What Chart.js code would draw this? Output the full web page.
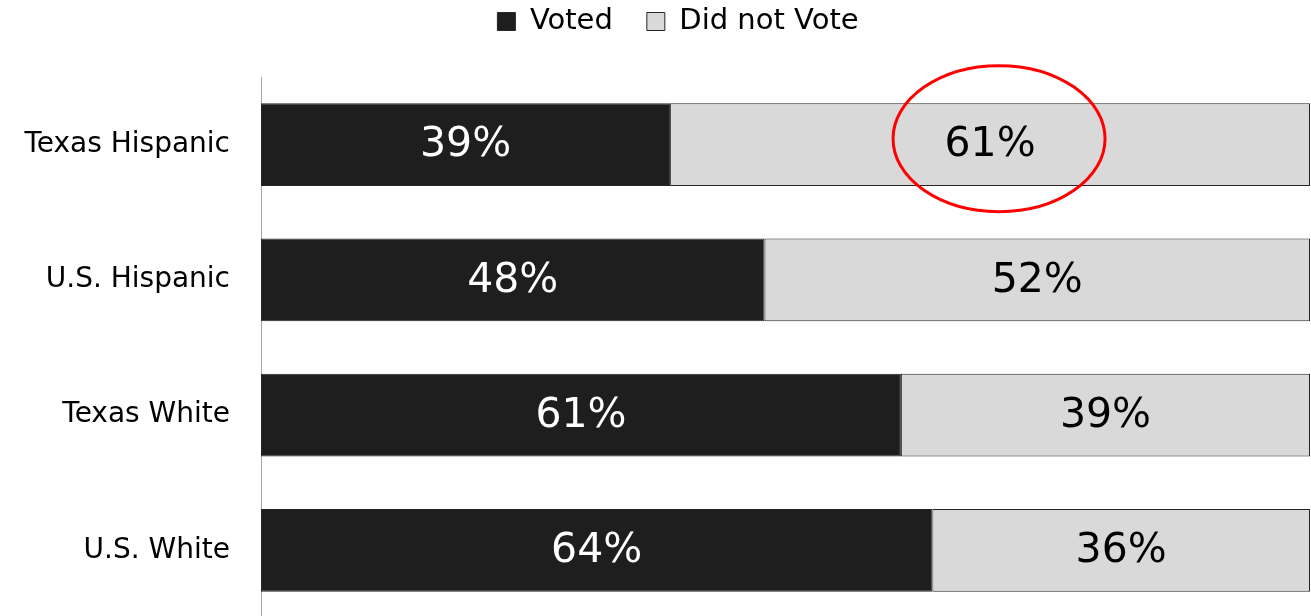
<!DOCTYPE html>
<html>
<head>
<meta charset="utf-8">
<script src="https://cdn.jsdelivr.net/npm/chart.js@4/dist/chart.umd.min.js"></script>
<style>
  html, body { margin: 0; padding: 0; background: #fff; overflow: hidden; }
</style>
</head>
<body>
<canvas id="myChart" width="1311" height="618"></canvas>
<script>
const categories = ['Texas Hispanic', 'U.S. Hispanic', 'Texas White', 'U.S. White'];
const voted = [39, 48, 61, 64];
const didNotVote = [61, 52, 39, 36];
const seriesNames = ['Voted', 'Did not Vote'];

const FONT = '"DejaVu Sans", sans-serif';

// legend takes a fixed band on top, items drawn a bit higher and to the right
const legendBand = {
  id: 'legendBand',
  afterInit(chart) {
    const lg = chart.legend;
    const fit = lg.fit;
    lg.fit = function () { fit.call(this); this.height = 77; };
    const draw = lg._draw;
    lg._draw = function () {
      const c = this.ctx;
      c.save();
      c.translate(23, -27);
      draw.call(this);
      c.restore();
    };
  }
};

// percent labels inside each segment
const barLabels = {
  id: 'barLabels',
  afterDatasetsDraw(chart) {
    const ctx = chart.ctx;
    ctx.save();
    ctx.font = '41px ' + FONT;
    ctx.textAlign = 'center';
    ctx.textBaseline = 'middle';
    chart.data.datasets.forEach((ds, i) => {
      chart.getDatasetMeta(i).data.forEach((bar, j) => {
        const p = bar.getProps(['x', 'y', 'base'], true);
        ctx.fillStyle = i === 0 ? '#ffffff' : '#000000';
        ctx.fillText(ds.data[j] + '%', (p.x + p.base) / 2, p.y + 1);
      });
    });
    ctx.restore();
  }
};

// red circle round the Texas Hispanic "did not vote" value
const circleNote = {
  id: 'circleNote',
  afterDraw(chart) {
    const bar = chart.getDatasetMeta(1).data[0];
    const p = bar.getProps(['x', 'y', 'base'], true);
    const ctx = chart.ctx;
    ctx.save();
    ctx.strokeStyle = '#ff0000';
    ctx.lineWidth = 3;
    ctx.beginPath();
    ctx.ellipse((p.x + p.base) / 2 + 9, p.y - 6, 106, 73, 0, 0, Math.PI * 2);
    ctx.stroke();
    ctx.restore();
  }
};

const ctx = document.getElementById('myChart').getContext('2d');
new Chart(ctx, {
  type: 'bar',
  data: {
    labels: categories,
    datasets: [{
      label: seriesNames[0],
      data: voted,
      backgroundColor: '#1e1e1e',
      borderColor: '#262626',
      borderWidth: 1,
      borderSkipped: false
    }, {
      label: seriesNames[1],
      data: didNotVote,
      backgroundColor: '#d9d9d9',
      borderColor: '#262626',
      borderWidth: 1,
      borderSkipped: false
    }]
  },
  options: {
    indexAxis: 'y',
    responsive: false,
    animation: false,
    categoryPercentage: 0.613,
    barPercentage: 1,
    layout: { padding: { left: 0, right: 1, top: 0, bottom: 0 } },
    plugins: {
      tooltip: { enabled: false },
      legend: {
        position: 'top',
        labels: {
          color: '#000',
          font: { family: FONT, size: 29 },
          boxWidth: 18,
          boxHeight: 18,
          padding: 34
        }
      }
    },
    scales: {
      x: {
        stacked: true,
        min: 0,
        max: 100,
        display: false
      },
      y: {
        stacked: true,
        grid: { display: false },
        border: { display: true, color: '#a6a6a6', width: 1 },
        ticks: {
          color: '#000',
          padding: 23,
          font: { family: FONT, size: 28 }
        },
        afterFit(scale) {
          scale.width = 261;
          scale.paddingTop = 0;
          scale.paddingBottom = 0;
        }
      }
    }
  },
  plugins: [legendBand, barLabels, circleNote]
});
</script>
</body>
</html>
